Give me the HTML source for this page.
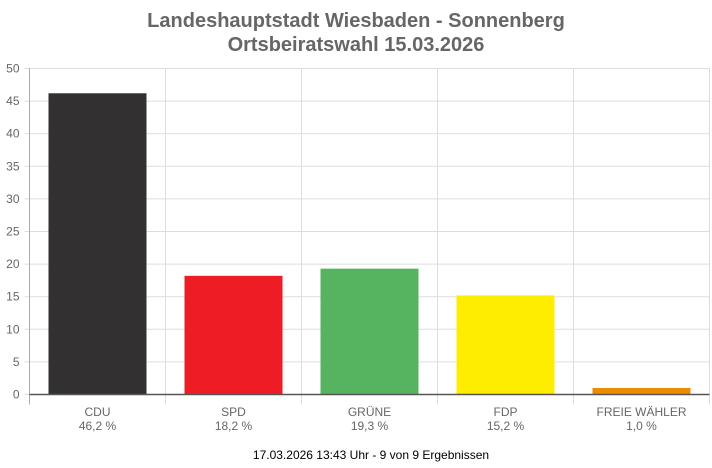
<!DOCTYPE html>
<html><head><meta charset="utf-8"><style>
body{margin:0;background:#fff;font-family:"Liberation Sans",Arial,sans-serif}
svg{display:block}
</style></head><body>
<svg width="712" height="468">
<text x="356" y="27" text-anchor="middle" font-size="20" font-weight="bold" fill="#666">Landeshauptstadt Wiesbaden - Sonnenberg</text>
<text x="356" y="51" text-anchor="middle" font-size="20" font-weight="bold" fill="#666">Ortsbeiratswahl 15.03.2026</text>
<g id="grid"></g><g id="bars"></g><g id="labels"></g>
<text x="371" y="459" text-anchor="middle" font-size="12" fill="#000">17.03.2026 13:43 Uhr - 9 von 9 Ergebnissen</text>
</svg>
<script>
const categories=["CDU","SPD","GRÜNE","FDP","FREIE WÄHLER"];
const values=[46.2,18.2,19.3,15.2,1.0];
const pctLabels=["46,2 %","18,2 %","19,3 %","15,2 %","1,0 %"];
const colors=["#323031","#ee1d25","#56b460","#ffed00","#ec8d00"];
const yTicks=[0,5,10,15,20,25,30,35,40,45,50];
const NS="http://www.w3.org/2000/svg";
const L=29.5,R=709.5,T=68.5,B=394.5,YMAX=50;
const y=v=>B-(v/YMAX)*(B-T);
const bw=(R-L)/categories.length;
const x=i=>L+i*bw;
function mk(tag,a,p){const e=document.createElementNS(NS,tag);for(const k in a)e.setAttribute(k,a[k]);p.appendChild(e);return e;}
const g=document.getElementById('grid'),gb=document.getElementById('bars'),gl=document.getElementById('labels');
yTicks.forEach(t=>{
const ln=mk('line',{x1:L-5,x2:R,y1:y(t),y2:y(t),stroke:'#ddd','stroke-width':1},g);


const tx=mk('text',{x:L-10,y:y(t)+4,'text-anchor':'end','font-size':12,fill:'#666'},g);
tx.textContent=t;


});
for(let i=0;i<=categories.length;i++){
const ln=mk('line',{x1:x(i),x2:x(i),y1:T,y2:B+10,stroke:i==0?'#aaa':'#ddd','stroke-width':1},g);


}
categories.forEach((c,i)=>{
const cx=x(i)+bw/2,w=98;
const r=mk('rect',{x:cx-w/2,y:y(values[i]),width:w,height:B-y(values[i]),fill:colors[i]},gb);


const t1=mk('text',{x:cx,y:416,'text-anchor':'middle','font-size':12,fill:'#666'},gl);
t1.textContent=c;


const t2=mk('text',{x:cx,y:430,'text-anchor':'middle','font-size':12,fill:'#666'},gl);
t2.textContent=pctLabels[i];


});
const ax=mk('line',{x1:L,x2:R,y1:B,y2:B,stroke:'#555','stroke-width':1.5},gl);


</script>
</body></html>
